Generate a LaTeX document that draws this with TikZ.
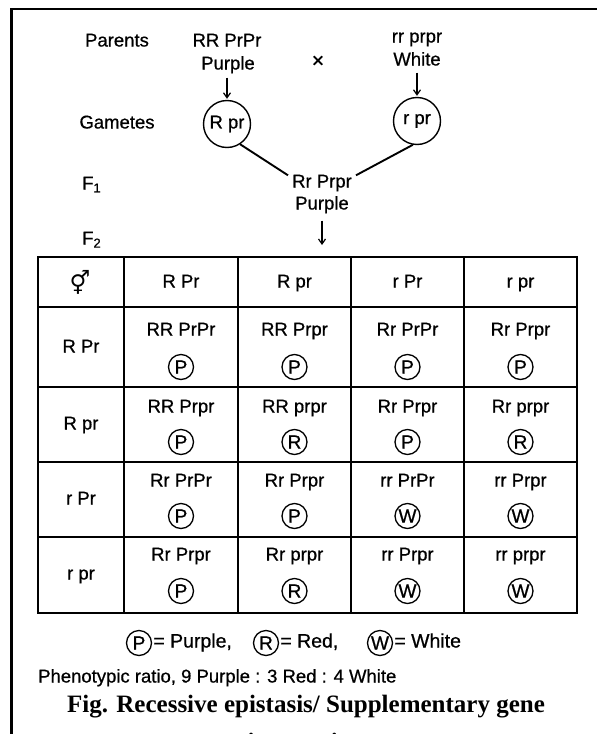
\documentclass[tikz,border=0pt]{standalone}
\usepackage{fontspec}
\setmainfont{Liberation Serif}
\setsansfont{Liberation Sans}[FakeBold=0.7]
\newfontfamily\symfont{DejaVu Sans}
\usetikzlibrary{arrows.meta, positioning}

\begin{document}
\begin{tikzpicture}[x=1pt, y=-1pt,
    txt/.style={font=\sffamily\fontsize{18.5}{21}\selectfont, inner sep=1pt, text height=13pt, text depth=4pt},
    keytxt/.style={txt, font=\sffamily\fontsize{19.5}{21}\selectfont},
    gamete/.style={circle, draw, line width=1.4pt, minimum size=47pt, inner sep=0pt, font=\sffamily\fontsize{18.5}{21}\selectfont},
    pheno/.style={circle, draw, line width=1.3pt, minimum size=25pt, inner sep=0pt, font=\sffamily\fontsize{19}{20}\selectfont},
    arrow/.style={-{Straight Barb[length=5pt, width=7pt]}, line width=1.2pt},
    link/.style={line width=1.9pt},
    grid/.style={line width=1.7pt}
]
    \useasboundingbox (0,0) rectangle (597,734);
    % Frame, open on the right and at the bottom
    \draw[line width=2.4pt] (597,9) -- (11.5,9) -- (11.5,734);

    % Parents
    \node[txt] (parents) at (117,42) {Parents};
    \node[txt] (pAgen) at (227,42) {RR PrPr};
    \node[txt] (pAcol) at (228,65) {Purple};
    \node[txt, font=\sffamily\fontsize{21}{21}\selectfont] (cross) at (318,63) {×};
    \node[txt] (pBgen) at (417,38) {rr prpr};
    \node[txt] (pBcol) at (417,61) {White};

    % Gametes
    \node[txt] (gametes) at (117,124) {Gametes};
    \node[gamete] (gA) at (227,124) {R pr};
    \node[gamete] (gB) at (417,121) {r pr};
    \draw[arrow, shorten <=3pt, shorten >=1pt] (pAcol.south -| gA) -- (gA);
    \draw[arrow, shorten <=2pt, shorten >=1pt] (pBcol) -- (gB);

    % F1 and F2
    \node[txt, anchor=west] (fone) at (81,185) {F\textsubscript{1}};
    \node[txt, anchor=west] (ftwo) at (81,240) {F\textsubscript{2}};
    \node[txt] (hybgen) at (322,183) {Rr Prpr};
    \node[txt] (hybcol) at (322,205) {Purple};
    \draw[link] (gA.-57) -- ([shift={(-3,2)}]hybgen.north west);
    \draw[link] (gB.-100) -- ([shift={(3,2)}]hybgen.north east);
    \coordinate (board) at (322,245);
    \draw[arrow, shorten <=6pt] (hybcol) -- (board);

    % Punnett square
    \draw[grid] (38,257) rectangle (577,613);
    \draw[grid] (124,257) -- (124,613) (238,257) -- (238,613) (351,257) -- (351,613) (464,257) -- (464,613);
    \draw[grid] (38,307) -- (577,307) (38,387) -- (577,387) (38,462) -- (577,462) (38,537) -- (577,537);

    % Header: male gametes
    \node[font=\symfont\fontsize{23}{25}\selectfont, inner sep=0pt] (sexes) at (80,282) {⚥};
    \node[txt] (mRPr) at (181,283) {R Pr};
    \node[txt] (mRpr) at (294.5,283) {R pr};
    \node[txt] (mrPr) at (407.5,283) {r Pr};
    \node[txt] (mrpr) at (520.5,283) {r pr};

    % Female gametes
    \node[txt] (fRPr) at (81,348) {R Pr};
    \node[txt] (fRpr) at (81,425) {R pr};
    \node[txt] (frPr) at (81,500) {r Pr};
    \node[txt] (frpr) at (81,575) {r pr};

    % Row R Pr
    \node[txt] (c11) at (181,331) {RR PrPr};   \node[pheno] (o11) at (181,367) {P};
    \node[txt] (c12) at (294.5,331) {RR Prpr}; \node[pheno] (o12) at (294.5,367) {P};
    \node[txt] (c13) at (407.5,331) {Rr PrPr}; \node[pheno] (o13) at (407.5,367) {P};
    \node[txt] (c14) at (520.5,331) {Rr Prpr}; \node[pheno] (o14) at (520.5,367) {P};

    % Row R pr
    \node[txt] (c21) at (181,408) {RR Prpr};   \node[pheno] (o21) at (181,442) {P};
    \node[txt] (c22) at (294.5,408) {RR prpr}; \node[pheno] (o22) at (294.5,442) {R};
    \node[txt] (c23) at (407.5,408) {Rr Prpr}; \node[pheno] (o23) at (407.5,442) {P};
    \node[txt] (c24) at (520.5,408) {Rr prpr}; \node[pheno] (o24) at (520.5,442) {R};

    % Row r Pr
    \node[txt] (c31) at (181,482) {Rr PrPr};   \node[pheno] (o31) at (181,516) {P};
    \node[txt] (c32) at (294.5,482) {Rr Prpr}; \node[pheno] (o32) at (294.5,516) {P};
    \node[txt] (c33) at (407.5,482) {rr PrPr}; \node[pheno] (o33) at (407.5,516) {W};
    \node[txt] (c34) at (520.5,482) {rr Prpr}; \node[pheno] (o34) at (520.5,516) {W};

    % Row r pr
    \node[txt] (c41) at (181,556) {Rr Prpr};   \node[pheno] (o41) at (181,591) {P};
    \node[txt] (c42) at (294.5,556) {Rr prpr}; \node[pheno] (o42) at (294.5,591) {R};
    \node[txt] (c43) at (407.5,556) {rr Prpr}; \node[pheno] (o43) at (407.5,591) {W};
    \node[txt] (c44) at (520.5,556) {rr prpr}; \node[pheno] (o44) at (520.5,591) {W};

    % Key
    \node[pheno] (keyP) at (139,643) {P};
    \node[keytxt, right=0pt of keyP] (keyPtxt) {= Purple,};
    \node[pheno] (keyR) at (266,643) {R};
    \node[keytxt, right=0pt of keyR] (keyRtxt) {= Red,};
    \node[pheno] (keyW) at (380,643) {W};
    \node[keytxt, right=0pt of keyW] (keyWtxt) {= White};

    % Ratio and caption
    \node[txt, anchor=west] (ratio) at (37,678) {Phenotypic ratio, 9 Purple : 3 Red : 4 White};
    \node[font=\bfseries\fontsize{25}{28}\selectfont, inner sep=0pt] (caption) at (306,707) {Fig. Recessive epistasis/ Supplementary gene};
    \node[font=\bfseries\fontsize{25}{28}\selectfont, inner sep=0pt] (captiontail) at (306,742) {interaction};
\end{tikzpicture}
\end{document}
